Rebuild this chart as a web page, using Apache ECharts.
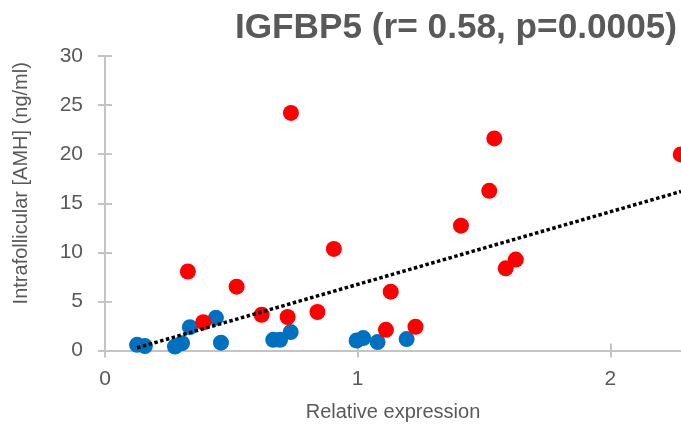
<!DOCTYPE html>
<html>
<head>
    <meta charset="UTF-8">
    <title>IGFBP5</title>
    <script src="https://cdn.jsdelivr.net/npm/echarts@6/dist/echarts.min.js"></script>
    <style>
        html, body { margin: 0; padding: 0; background: #fff; }
        #main { width: 681px; height: 425px; }
    </style>
</head>
<body>
<div id="main"></div>
<script type="text/javascript">

    // blue group (relative expression, AMH ng/ml)
    var blueX = [0.127, 0.158, 0.277, 0.305, 0.336, 0.439, 0.459, 0.666, 0.693, 0.735, 0.996, 1.022, 1.079, 1.194];
    var blueY = [0.58, 0.45, 0.40, 0.75, 2.38, 3.33, 0.80, 1.09, 1.09, 1.88, 1.02, 1.27, 0.86, 1.16];

    // red group
    var redX = [0.328, 0.389, 0.521, 0.620, 0.723, 0.736, 0.841, 0.906, 1.112, 1.131, 1.229, 1.409, 1.521, 1.541, 1.586, 1.626, 2.279];
    var redY = [8.05, 2.88, 6.50, 3.64, 3.41, 24.2, 3.92, 10.35, 2.11, 5.99, 2.42, 12.72, 16.27, 21.6, 8.37, 9.26, 19.97];

    // linear trend line end points
    var trendX = [0.127, 2.28];
    var trendY = [0.28, 16.2];

    var yTicks = [0, 5, 10, 15, 20, 25, 30];
    var xTicks = [0, 1, 2];

    function pairs(xs, ys) {
        var out = [];
        for (var i = 0; i < xs.length; i++) {
            out.push([xs[i], ys[i]]);
        }
        return out;
    }

    var gray = '#595959';
    var axisGray = '#C4C4C4';

    var myChart = echarts.init(document.getElementById('main'));

    var option = {
        animation: false,
        title: {
            text: 'IGFBP5 (r= 0.58, p=0.0005)',
            right: -1,
            top: 6,
            textStyle: {
                fontFamily: 'Liberation Sans',
                fontSize: 35.2,
                fontWeight: 'bold',
                color: gray
            }
        },
        grid: {
            left: 105,
            right: 0,
            top: 56,
            bottom: 74.5,
            outerBoundsMode: 'none'
        },
        xAxis: [
            {
                type: 'value',
                min: 0,
                max: 2.28,
                name: 'Relative expression',
                nameLocation: 'middle',
                nameGap: 52,
                nameTextStyle: {fontFamily: 'Liberation Sans', fontSize: 20, color: gray},
                axisLine: {lineStyle: {color: axisGray, width: 2}},
                axisTick: {show: true, length: 7, customValues: xTicks, lineStyle: {color: axisGray, width: 2}},
                axisLabel: {customValues: xTicks, margin: 18, fontFamily: 'Liberation Sans', fontSize: 21, color: gray},
                splitLine: {show: false}
            },
            {
                type: 'value',
                position: 'bottom',
                min: 0,
                max: 2.28,
                axisLine: {show: false},
                axisTick: {show: true, inside: true, length: 7, customValues: xTicks, lineStyle: {color: axisGray, width: 2}},
                axisLabel: {show: false},
                splitLine: {show: false}
            }
        ],
        yAxis: [
            {
                type: 'value',
                min: 0,
                max: 30,
                interval: 5,
                name: 'Intrafollicular [AMH] (ng/ml)',
                nameLocation: 'middle',
                nameGap: 74,
                nameTextStyle: {fontFamily: 'Liberation Sans', fontSize: 20, color: gray, padding: [0, 0, 0, 40]},
                axisLine: {show: true, lineStyle: {color: axisGray, width: 2}},
                axisTick: {show: true, length: 7, customValues: yTicks, lineStyle: {color: axisGray, width: 2}},
                axisLabel: {customValues: yTicks, margin: 22, fontFamily: 'Liberation Sans', fontSize: 21, color: gray},
                splitLine: {show: false}
            },
            {
                type: 'value',
                position: 'left',
                min: 0,
                max: 30,
                interval: 5,
                axisLine: {show: false},
                axisTick: {show: true, inside: true, length: 7, customValues: yTicks, lineStyle: {color: axisGray, width: 2}},
                axisLabel: {show: false},
                splitLine: {show: false}
            }
        ],
        series: [
            {
                name: 'blue',
                type: 'scatter',
                symbolSize: 16,
                itemStyle: {color: '#0070C0', opacity: 1},
                data: pairs(blueX, blueY)
            },
            {
                name: 'red',
                type: 'scatter',
                symbolSize: 16,
                itemStyle: {color: '#FF0000', opacity: 1},
                data: pairs(redX, redY)
            },
            {
                name: 'trend',
                type: 'line',
                symbol: 'none',
                z: 5,
                lineStyle: {color: '#000', width: 3.5, type: [3.5, 2.5], cap: 'butt'},
                data: pairs(trendX, trendY)
            }
        ]
    };

    myChart.setOption(option);

</script>
</body>
</html>
